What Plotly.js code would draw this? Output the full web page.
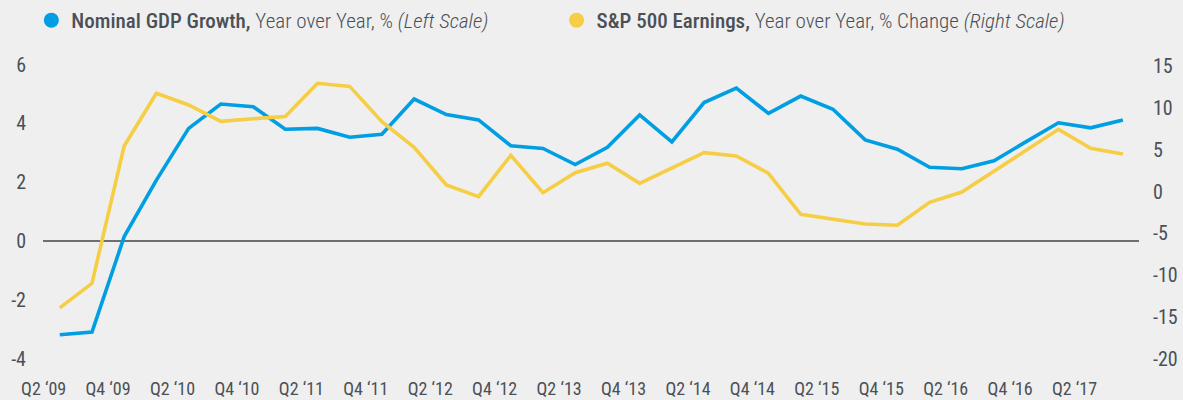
<!DOCTYPE html>
<html>
<head>
<meta charset="utf-8">
<script src="https://cdn.plot.ly/plotly-3.0.1.min.js"></script>
<style>
  html, body { margin: 0; padding: 0; background: #efefef; }
  #chart { width: 1183px; height: 400px; }
</style>
</head>
<body>
<div id="chart"></div>
<script>
// Quarters Q2 2009 .. Q3 2017
const quarters = [
  "Q2 2009","Q3 2009","Q4 2009","Q1 2010","Q2 2010","Q3 2010","Q4 2010",
  "Q1 2011","Q2 2011","Q3 2011","Q4 2011","Q1 2012","Q2 2012","Q3 2012","Q4 2012",
  "Q1 2013","Q2 2013","Q3 2013","Q4 2013","Q1 2014","Q2 2014","Q3 2014","Q4 2014",
  "Q1 2015","Q2 2015","Q3 2015","Q4 2015","Q1 2016","Q2 2016","Q3 2016","Q4 2016",
  "Q1 2017","Q2 2017","Q3 2017"
];

// Nominal GDP growth, YoY % (left scale)
const gdpGrowth = [
  -3.19, -3.10, 0.15, 2.07, 3.83, 4.66, 4.57,
  3.80, 3.83, 3.53, 3.63, 4.83, 4.30, 4.12, 3.24,
  3.15, 2.60, 3.19, 4.29, 3.37, 4.71, 5.20, 4.34,
  4.93, 4.48, 3.44, 3.12, 2.51, 2.46, 2.73, 3.38,
  4.02, 3.85, 4.12
];

// S&P 500 earnings, YoY % change (right scale)
const spEarnings = [
  -13.9, -10.96, 5.47, 11.77, 10.37, 8.42, 8.73,
  9.0, 12.97, 12.6, 8.37, 5.31, 0.80, -0.60, 4.35,
  -0.12, 2.27, 3.40, 1.0, 2.8, 4.67, 4.27, 2.2,
  -2.71, -3.27, -3.86, -4.02, -1.27, -0.04, 2.48, 4.99,
  7.46, 5.19, 4.51
];

// x-axis tick labels (every second quarter)
const xTickLabels = [
  "Q2 \u201809","Q4 \u201809","Q2 \u201810","Q4 \u201810","Q2 \u201811","Q4 \u201811",
  "Q2 \u201812","Q4 \u201812","Q2 \u201813","Q4 \u201813","Q2 \u201814","Q4 \u201814",
  "Q2 \u201815","Q4 \u201815","Q2 \u201816","Q4 \u201816","Q2 \u201817"
];
const leftTicks = [-4, -2, 0, 2, 4, 6];
const leftTickText = ["-4", "-2", "0", "2", "4", "6"];
const rightTicks = [-20, -15, -10, -5, 0, 5, 10, 15];
const rightTickText = ["-20", "-15", "-10", "-5", "0", "5", "10", "15"];

const legendGdp = "<span style='font-weight:500'>Nominal GDP Growth,</span> <span style='font-weight:300'>Year over Year, % <i>(Left Scale)</i></span>";
const legendSp = "<span style='font-weight:500'>S&amp;P 500 Earnings,</span> <span style='font-weight:300'>Year over Year, % Change <i>(Right Scale)</i></span>";

const BLUE = "#009EE2";
const YELLOW = "#F5CE45";
const TEXT = "#4b5057";
const FONT = "'Roboto Condensed', Roboto, 'DejaVu Sans Condensed', sans-serif";

const xIdx = quarters.map((q, i) => i);
// labels sit half a quarter to the left of their data point
const xTickVals = xTickLabels.map((t, k) => 2 * k - 0.5);

const traces = [
  {
    x: xIdx, y: gdpGrowth, type: "scatter", mode: "lines",
    line: { color: BLUE, width: 3.6 }, yaxis: "y", showlegend: false,
    text: quarters, hoverinfo: "text+y"
  },
  {
    x: xIdx, y: spEarnings, type: "scatter", mode: "lines",
    line: { color: YELLOW, width: 3.6 }, yaxis: "y2", showlegend: false,
    text: quarters, hoverinfo: "text+y"
  },
  {
    x: [null], y: [null], type: "scatter", mode: "markers", name: legendGdp,
    marker: { color: BLUE, size: 15 }, showlegend: true, legend: "legend"
  },
  {
    x: [null], y: [null], type: "scatter", mode: "markers", name: legendSp,
    marker: { color: YELLOW, size: 15 }, showlegend: true, legend: "legend2"
  }
];

const legendBase = {
  orientation: "h", xref: "container", y: 1, yref: "container",
  xanchor: "left", yanchor: "top",
  font: { family: FONT, size: 21, color: TEXT },
  bgcolor: "rgba(0,0,0,0)",
  itemclick: false, itemdoubleclick: false
};

const layout = {
  width: 1183, height: 400,
  paper_bgcolor: "#efefef", plot_bgcolor: "#efefef",
  font: { family: FONT, color: TEXT, size: 19 },
  margin: { l: 43, r: 44, t: 50, b: 30, pad: 0 },
  showlegend: true,
  legend: Object.assign({}, legendBase, { x: 0.0265 }),
  legend2: Object.assign({}, legendBase, { x: 0.4705 }),
  xaxis: {
    range: [-0.52, 33.5], showgrid: false, zeroline: false, showline: false,
    tickmode: "array", tickvals: xTickVals, ticktext: xTickLabels,
    ticks: "", tickfont: { size: 18 }, ticklabelstandoff: 6, fixedrange: true
  },
  yaxis: {
    range: [-4.388, 6.497], showgrid: false, showline: false,
    zeroline: true, zerolinecolor: "#6b6e72", zerolinewidth: 1.5,
    tickmode: "array", tickvals: leftTicks, ticktext: leftTickText,
    ticks: "", tickfont: { size: 20 }, ticklabelstandoff: 16, fixedrange: true
  },
  yaxis2: {
    range: [-21.33, 16.95], overlaying: "y", side: "right",
    showgrid: false, zeroline: false, showline: false,
    tickmode: "array", tickvals: rightTicks, ticktext: rightTickText,
    ticks: "", tickfont: { size: 20 }, ticklabelstandoff: 13, fixedrange: true
  }
};

Plotly.newPlot("chart", traces, layout, { displayModeBar: false, staticPlot: true });
</script>
</body>
</html>
